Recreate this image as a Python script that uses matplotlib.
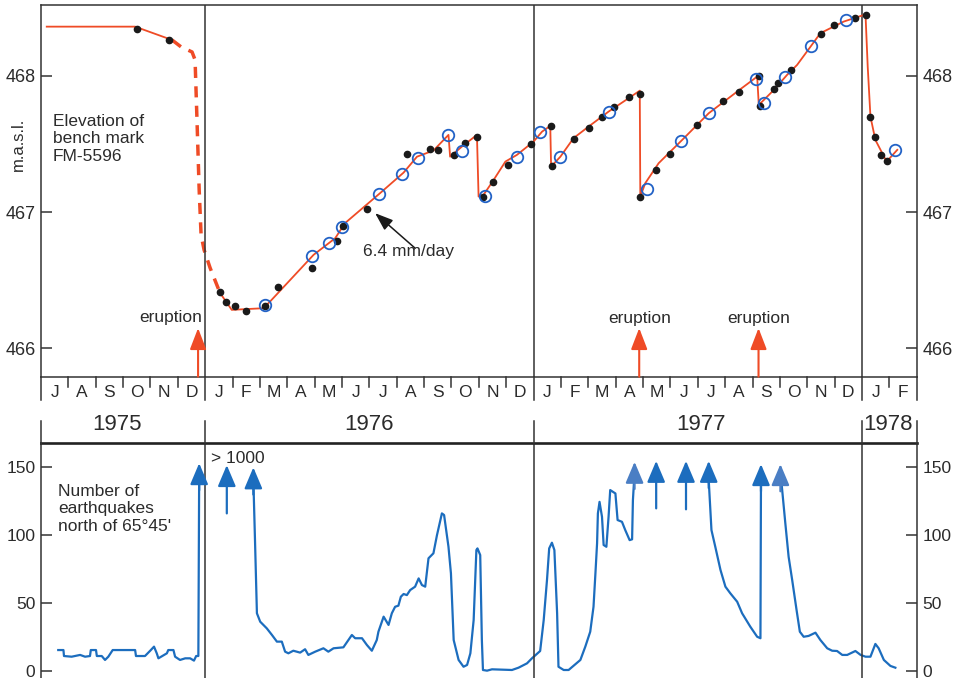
import numpy as np
import matplotlib.pyplot as plt

plt.rcParams['font.family'] = ['Liberation Sans', 'DejaVu Sans']

W, H = 955, 678


def fx(px):
    return px / W


def fy(py):
    return 1 - py / H


# time axis: months counted from 1 July 1975
MONTHS = list("JASOND") + list("JFMAMJJASOND") * 2 + list("JF")
YEARS = ["1975", "1976", "1977", "1978"]
YEAR_EDGES = [0, 6, 18, 30, 32]
YEAR_LABEL_T = [2.78, 12.0, 24.1, 30.95]

# elevation of bench mark FM-5596 (m a.s.l.)
pre_t = [0.21, 3.44, 4.79]
pre_z = [468.362, 468.362, 468.264]
dash_t = [4.79, 5.12, 5.52, 5.63, 5.70, 5.78, 5.85, 5.96, 6.18, 6.54]
dash_z = [468.264, 468.213, 468.176, 468.118, 467.677, 467.163, 466.832, 466.722, 466.590, 466.407]
line_t = [6.54, 6.97, 8.13, 8.37, 9.96, 10.75, 11.11, 12.39, 13.25, 13.74, 14.34, 14.89, 14.95,
          15.38, 15.93, 15.99, 16.17, 16.54, 16.97, 17.39, 18.00, 18.31, 18.61, 18.64, 18.98,
          19.46, 20.01, 20.74, 21.47, 21.88, 21.90, 22.08, 22.57, 23.43, 24.40, 25.44, 26.17,
          26.23, 26.78, 27.26, 27.63, 28.12, 28.48, 29.33, 30.07, 30.13, 30.21, 30.31, 30.49,
          30.90, 31.29]
line_z = [466.407, 466.282, 466.294, 466.343, 466.686, 466.808, 466.919, 467.139, 467.290,
          467.407, 467.452, 467.567, 467.407, 467.481, 467.567, 467.114, 467.126, 467.236,
          467.371, 467.420, 467.518, 467.591, 467.633, 467.334, 467.407, 467.543, 467.628,
          467.738, 467.836, 467.892, 467.114, 467.212, 467.359, 467.530, 467.726, 467.885,
          467.995, 467.787, 467.897, 468.007, 468.081, 468.215, 468.314, 468.399, 468.448,
          468.448, 468.068, 467.701, 467.530, 467.371, 467.457]
dot_t = [3.50, 4.69, 6.54, 6.75, 7.09, 7.48, 8.19, 8.65, 9.91, 10.83, 11.04, 11.91, 13.37,
         14.20, 14.49, 15.11, 15.50, 15.95, 16.15, 16.52, 17.06, 17.92, 18.64, 18.67, 19.46,
         20.01, 20.50, 20.93, 21.50, 21.90, 21.90, 22.48, 22.97, 23.97, 24.91, 25.50, 26.23,
         26.29, 26.78, 26.92, 27.41, 28.51, 28.97, 29.73, 30.16, 30.28, 30.47, 30.68, 30.90]
dot_z = [468.345, 468.264, 466.414, 466.343, 466.311, 466.277, 466.308, 466.453, 466.590,
         466.791, 466.899, 467.023, 467.427, 467.462, 467.457, 467.420, 467.506, 467.550,
         467.110, 467.224, 467.347, 467.499, 467.633, 467.341, 467.535, 467.620, 467.697,
         467.775, 467.844, 467.868, 467.109, 467.310, 467.425, 467.640, 467.819, 467.885,
         468.000, 467.782, 467.902, 467.946, 468.044, 468.306, 468.374, 468.424, 468.448,
         467.701, 467.554, 467.420, 467.376]
ring_t = [8.19, 9.92, 10.54, 10.99, 12.36, 13.21, 13.76, 14.89, 15.38, 16.21, 17.39, 18.25,
          18.95, 20.74, 22.15, 23.40, 24.40, 26.14, 26.41, 27.20, 28.12, 29.40, 31.22]
ring_z = [466.314, 466.681, 466.776, 466.889, 467.131, 467.280, 467.400, 467.567, 467.452,
          467.119, 467.403, 467.585, 467.403, 467.738, 467.170, 467.523, 467.726, 467.978,
          467.804, 467.995, 468.220, 468.411, 467.457]
eruption_t = [5.74, 21.86, 26.22]

# number of earthquakes north of 65°45'
q75_t = [0.63, 0.82, 0.84, 1.12, 1.43, 1.61, 1.79, 1.82, 2.01, 2.04, 2.22, 2.34, 2.46, 2.62,
         3.44, 3.47, 3.80, 3.99, 4.13, 4.23, 4.29, 4.60, 4.65, 4.84, 4.90, 5.08, 5.27, 5.45,
         5.59, 5.67, 5.75, 5.78]
q75_n = [15.2, 15.2, 10.8, 10.3, 11.6, 10.3, 10.8, 15.2, 15.2, 10.8, 10.8, 7.9, 10.3, 15.2,
         15.2, 10.8, 10.8, 14.7, 17.7, 12.8, 9.1, 12.8, 15.2, 15.2, 10.3, 7.9, 9.1, 9.1, 7.4,
         10.8, 10.8, 145]
q76_t = [7.76, 7.76, 7.82, 7.89, 8.01, 8.25, 8.44, 8.62, 8.80, 8.92, 9.04, 9.22, 9.47, 9.65,
         9.77, 10.02, 10.32, 10.50, 10.69, 11.05, 11.36, 11.48, 11.73, 11.91, 12.09, 12.27,
         12.33, 12.52, 12.70, 12.82, 12.94, 13.06, 13.15, 13.25, 13.37, 13.49, 13.67, 13.80,
         13.92, 14.04, 14.16, 14.34, 14.47, 14.65, 14.73, 14.89, 14.98, 15.08, 15.26, 15.44,
         15.57, 15.69, 15.81, 15.91, 15.95, 16.05, 16.11, 16.15, 16.30, 16.48, 17.21, 17.45,
         17.76, 17.94, 18.24, 18.37, 18.49, 18.57, 18.67, 18.76, 18.86, 18.91, 19.10, 19.28,
         19.71, 19.89, 20.07, 20.19, 20.26, 20.32, 20.35, 20.41, 20.50, 20.56, 20.66, 20.74,
         20.80, 20.99, 21.07, 21.23, 21.35, 21.51, 21.60, 21.63, 21.69]
q76_n = [145, 140.4, 96.2, 42.3, 36.1, 31.2, 26.3, 21.4, 21.4, 14.0, 12.8, 14.7, 13.3, 15.8,
         11.6, 14.0, 16.5, 14.0, 16.5, 17.2, 26.3, 23.9, 23.9, 18.9, 14.7, 22.6, 28.7, 39.8,
         33.7, 42.3, 47.1, 47.9, 54.5, 56.5, 55.7, 59.4, 61.9, 68.0, 63.1, 61.9, 82.8, 86.5,
         99.9, 115.9, 114.7, 91.3, 71.7, 22.6, 7.9, 2.9, 4.2, 12.8, 37.3, 88.9, 90.1, 85.2,
         22.6, 0.5, 0.0, 1.0, 0.5, 2.2, 5.4, 9.1, 14.5, 37.3, 66.8, 90.1, 94.3, 88.9, 42.3,
         2.9, 0.5, 0.5, 7.9, 17.7, 28.7, 47.1, 71.7, 93.8, 115.9, 124.4, 113.4, 92.6, 91.3,
         113.4, 133.1, 130.6, 111.0, 109.7, 103.6, 96.2, 96.8, 125.7, 146]
q77a_t = [24.40, 24.40, 24.50, 24.64, 24.83, 25.01, 25.19, 25.44, 25.62, 25.92, 26.17, 26.29,
          26.31]
q77a_n = [146, 140.4, 103.6, 91.3, 74.2, 61.9, 57.0, 50.8, 42.3, 32.4, 25.0, 23.9, 143]
q77b_t = [27.02, 27.05, 27.20, 27.32, 27.45, 27.61, 27.73, 27.87, 28.05, 28.30, 28.48, 28.73,
          28.91, 29.09, 29.28, 29.46, 29.76, 29.95, 30.13, 30.31, 30.49, 30.61, 30.80, 31.04,
          31.22]
q77b_n = [144, 140.4, 108.5, 83.9, 66.8, 44.7, 28.7, 25.0, 25.6, 28.0, 22.6, 16.5, 14.7, 14.5,
          11.6, 11.6, 14.5, 11.6, 10.3, 10.3, 19.7, 16.5, 7.9, 3.5, 2.2]
cap_t = [5.78, 7.76, 21.69, 24.40, 26.31, 27.02]
cap_n = [152.9, 149.8, 153.9, 154.6, 152.2, 152.2]
burst_t = [6.79, 22.48, 23.57]
burst_from = [115.9, 119.6, 118.9]
burst_to = [151.5, 154.6, 154.6]

RED = "#EF4B26"
BLUE = "#1C6DBE"
LIGHT_BLUE = "#4A7EC4"
INK = "#2b2b2b"
FRAME = "#333333"

fig = plt.figure(figsize=(W / 100, H / 100), dpi=100)
x0, x1 = 41, 916.7
ax = fig.add_axes([fx(x0), fy(376.7), (x1 - x0) / W, (376.7 - 5) / H])
axq = fig.add_axes([fx(x0), fy(678), (x1 - x0) / W, (678 - 442.7) / H])
strip = fig.add_axes([fx(x0), fy(445), (x1 - x0) / W, (445 - 376.7) / H])

# --- elevation panel ---
ax.set_xlim(0, 32)
ax.set_ylim(465.791, 468.521)
ax.plot(pre_t, pre_z, color=RED, lw=1.3)
ax.plot(dash_t, dash_z, color=RED, lw=2.5, ls=(0, (3.2, 2.4)))
ax.plot(line_t, line_z, color=RED, lw=1.3, zorder=3)
ax.plot(dot_t, dot_z, 'o', color="#1a1a1a", ms=4.5, zorder=4)
ax.plot(ring_t, ring_z, 'o', mfc='none', mec="#2262C6", ms=8.3, mew=1.3, zorder=5)
for t in YEAR_EDGES[1:-1]:
    ax.axvline(t, color=FRAME, lw=1.1)
for t in eruption_t:
    ax.annotate("", xy=(t, 466.148), xytext=(t, 465.791),
                arrowprops=dict(arrowstyle="-|>,head_length=1.3,head_width=0.5",
                                color=RED, lw=1.5, shrinkA=0, shrinkB=0, mutation_scale=10))
ax.text(5.89, 466.193, "eruption", ha='right', va='baseline', fontsize=12.5, color=INK)
for t in eruption_t[1:]:
    ax.text(t, 466.186, "eruption", ha='center', va='baseline', fontsize=12.5, color=INK)
ax.annotate("", xy=(12.21, 466.992), xytext=(13.67, 466.735),
            arrowprops=dict(arrowstyle="-|>,head_length=1.1,head_width=0.4",
                            color="#1a1a1a", lw=1.1, shrinkA=0, shrinkB=0, mutation_scale=10))
ax.text(11.78, 466.676, "6.4 mm/day", ha='left', va='baseline', fontsize=12.5, color=INK)
ax.text(0.44, 467.72, "Elevation of\nbench mark\nFM-5596", ha='left', va='top',
        fontsize=12.5, color=INK, linespacing=1.2)
ax.set_yticks([466, 467, 468])
fig.text(fx(18), fy(144), "m.a.s.l.", rotation=90, ha='center', va='center',
         fontsize=12, color=INK)

# --- earthquake panel ---
axq.set_xlim(0, 32)
axq.set_ylim(-5.4, 168.0)
for qt, qn in [(q75_t, q75_n), (q76_t, q76_n), (q77a_t, q77a_n), (q77b_t, q77b_n)]:
    axq.plot(qt, qn, color=BLUE, lw=1.6, solid_joinstyle='round')
head = "-|>,head_length=1.3,head_width=0.55"
cap_colors = [BLUE, BLUE, LIGHT_BLUE, BLUE, BLUE, LIGHT_BLUE]
for t, n, c in zip(cap_t, cap_n, cap_colors):
    axq.annotate("", xy=(t, n), xytext=(t, n - 20),
                 arrowprops=dict(arrowstyle=head, color=c, lw=1.6, shrinkA=0, shrinkB=0,
                                 mutation_scale=10))
for t, a, b in zip(burst_t, burst_from, burst_to):
    axq.annotate("", xy=(t, b), xytext=(t, a),
                 arrowprops=dict(arrowstyle=head, color=BLUE, lw=1.6, shrinkA=0, shrinkB=0,
                                 mutation_scale=10))
for t in YEAR_EDGES[1:-1]:
    axq.axvline(t, color=FRAME, lw=1.1)
axq.text(6.2, 153.0, "> 1000", ha='left', va='baseline', fontsize=12.5, color=INK)
axq.text(0.63, 103.2, "Number of\nearthquakes\nnorth of 65°45'", ha='left', va='baseline',
         fontsize=12.5, color=INK, linespacing=1.18)
axq.set_yticks([0, 50, 100, 150])
axq.spines['bottom'].set_visible(False)
axq.spines['top'].set_linewidth(1.9)
axq.spines['top'].set_color("#222222")

for a, size in ((ax, 13), (axq, 12.5)):
    a.set_xticks([])
    a.tick_params(axis='y', direction='in', length=8, width=1.1, color=FRAME,
                  labelsize=size, labelcolor=INK, pad=4, right=True, labelright=True)
    for side in ('left', 'right', 'top', 'bottom'):
        if side == 'top' and a is axq:
            continue
        a.spines[side].set_linewidth(1.1)
        a.spines[side].set_color(FRAME)
# keep the "0" labels clear of the lower edge
for lab in axq.get_yticklabels():
    if lab.get_text() == "0":
        lab.set_va('center_baseline')

# --- month and year strip ---
strip.set_xlim(0, 32)
strip.set_ylim(445, 376.7)
strip.axis('off')
for m in range(1, 32):
    if m not in YEAR_EDGES:
        strip.plot([m, m], [376.7, 386.5], color=FRAME, lw=1.1, clip_on=False)
for m in YEAR_EDGES:
    strip.plot([m, m], [376.7, 399.5], color=FRAME, lw=1.1, clip_on=False)
    strip.plot([m, m], [421.0, 443.5], color=FRAME, lw=1.1, clip_on=False)
for i, letter in enumerate(MONTHS):
    strip.text(i + 0.5, 397, letter, ha='center', va='baseline', fontsize=12.5, color=INK)
for t, year in zip(YEAR_LABEL_T, YEARS):
    strip.text(t, 430.5, year, ha='center', va='baseline', fontsize=16, color=INK)

fig.savefig("out.png", dpi=100)
